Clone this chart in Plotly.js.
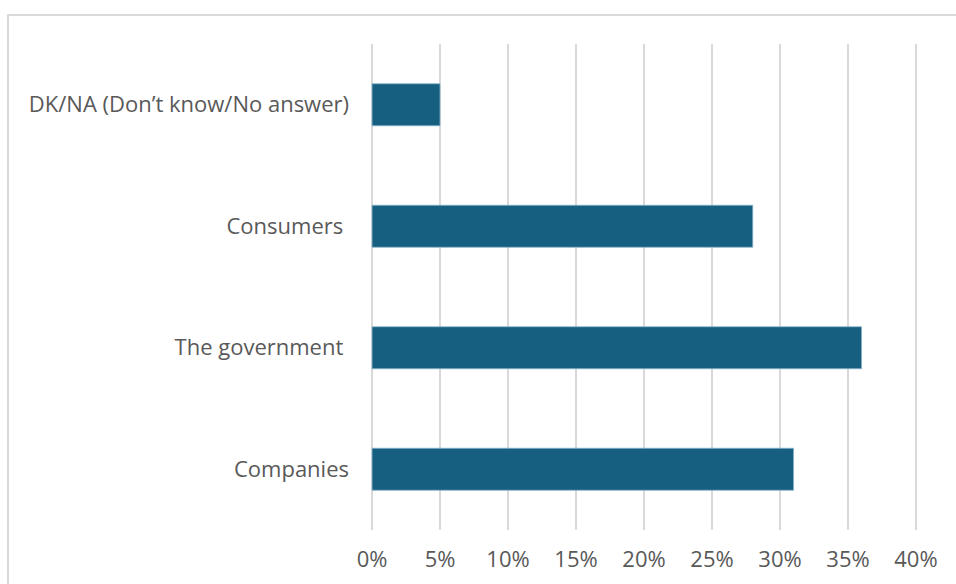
<!DOCTYPE html>
<html><head><meta charset="utf-8">
<script src="https://cdn.plot.ly/plotly-3.0.1.min.js"></script>
<style>
body{margin:0;width:956px;height:584px;overflow:hidden;background:#fff;position:relative;}
#frame{position:absolute;left:7px;top:14px;width:1200px;height:900px;border-left:2px solid #d9d9d9;border-top:2px solid #d9d9d9;}
#chart{position:absolute;left:0;top:0;width:956px;height:584px;}
</style></head>
<body>
<div id="frame"></div>
<div id="chart"></div>
<script>
const categories = ["Companies", "The government\u00a0", "Consumers\u00a0", "DK/NA (Don’t know/No answer)"];
const values = [0.31, 0.36, 0.28, 0.05];
const tickValues = [0, 0.05, 0.10, 0.15, 0.20, 0.25, 0.30, 0.35, 0.40];
const tickLabels = ["0%", "5%", "10%", "15%", "20%", "25%", "30%", "35%", "40%"];

const trace = {
  type: 'bar', orientation: 'h',
  y: categories, x: values,
  marker: {color: '#175F80', line: {color: '#8DB6CB', width: 0.8}},
  hoverinfo: 'none'
};
const layout = {
  width: 956, height: 584,
  paper_bgcolor: 'rgba(0,0,0,0)', plot_bgcolor: 'rgba(0,0,0,0)',
  margin: {l: 370, r: 38, t: 44, b: 54},
  bargap: 0.654,
  showlegend: false,
  font: {family: 'Open Sans, Liberation Sans, Arial, sans-serif', size: 22, color: '#595959'},
  xaxis: {
    range: [-0.0015, 0.4015], tickvals: tickValues, ticktext: tickLabels,
    showgrid: true, gridcolor: '#d9d9d9', gridwidth: 1.5,
    zeroline: false, showline: false, ticks: '', ticklabelstandoff: 14,
    fixedrange: true
  },
  yaxis: {
    type: 'category', categoryorder: 'array', categoryarray: categories,
    showgrid: false, zeroline: false, showline: false, ticks: '',
    ticklabelstandoff: 20, fixedrange: true
  }
};
Plotly.newPlot('chart', [trace], layout, {displayModeBar: false, staticPlot: true});
</script>
</body></html>
